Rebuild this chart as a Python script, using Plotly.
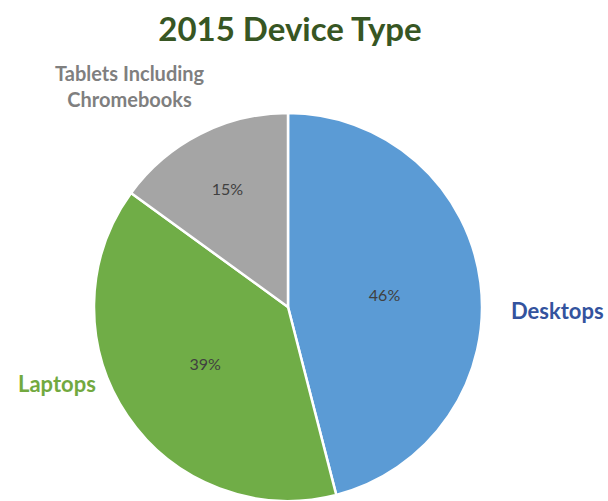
import plotly.graph_objects as go

categories = ["Desktops", "Laptops", "Tablets Including<br>Chromebooks"]
values = [46, 39, 15]
colors = ["#5B9BD5", "#70AD47", "#A5A5A5"]
label_colors = ["#33539E", "#72A93F", "#7F7F7F"]

W, H = 608, 501
fig = go.Figure()
fig.add_trace(go.Pie(
    labels=categories, values=values, sort=False, direction="clockwise", rotation=0,
    marker=dict(colors=colors, line=dict(color="white", width=2.5)),
    texttemplate="%{percent:.0%}", textposition="inside", insidetextorientation="horizontal",
    textfont=dict(family="Lato", size=16, color="#404040"),
    domain=dict(x=[94 / W, 482 / W], y=[0, 1 - 113 / H]),
    showlegend=False, hoverinfo="label+percent",
))

label_pos = [(557, 310), (57, 383), (130, 86)]
label_sizes = [22, 22, 20]
for name, c, (px, py), s in zip(categories, label_colors, label_pos, label_sizes):
    fig.add_annotation(text="<b>" + name + "</b>", x=px / W, y=1 - py / H, xref="paper", yref="paper",
                       showarrow=False, xanchor="center", yanchor="middle",
                       font=dict(family="Lato", size=s, color=c))

fig.update_layout(
    width=W, height=H, margin=dict(l=0, r=0, t=0, b=0),
    paper_bgcolor="white", plot_bgcolor="white",
    title=dict(text="<b>2015 Device Type</b>", x=290 / W, xanchor="center", y=1 - 29 / H, yanchor="middle",
               font=dict(family="Lato", size=33, color="#375623")),
)
fig.write_html("out.html")
